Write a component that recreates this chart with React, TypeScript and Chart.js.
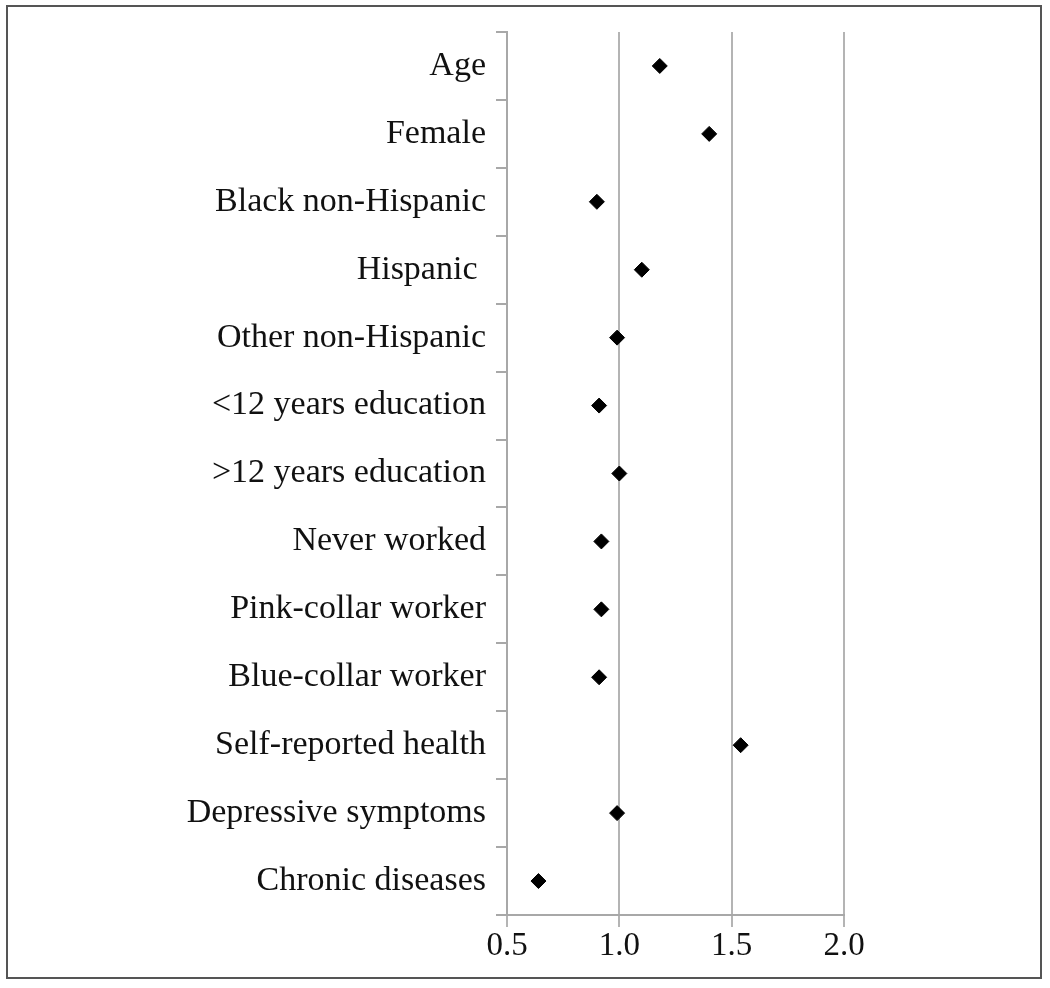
import React, { useEffect, useRef } from "react";
import { Chart, registerables } from "chart.js";

Chart.register(...registerables);

const categories = [
  "Age",
  "Female",
  "Black non-Hispanic",
  "Hispanic ",
  "Other non-Hispanic",
  "<12 years education",
  ">12 years education",
  "Never worked",
  "Pink-collar worker",
  "Blue-collar worker",
  "Self-reported health",
  "Depressive symptoms",
  "Chronic diseases",
];

const oddsRatios = [1.18, 1.4, 0.9, 1.1, 0.99, 0.91, 1.0, 0.92, 0.92, 0.91, 1.54, 0.99, 0.64];

const xTicks = [0.5, 1.0, 1.5, 2.0];

const FONT = "'Liberation Serif', 'Times New Roman', serif";

export default function App() {
  const ref = useRef<HTMLCanvasElement | null>(null);

  useEffect(() => {
    document.body.style.margin = "0";
    const canvas = ref.current;
    if (!canvas) return;
    const data = categories.map((c, i) => ({ x: oddsRatios[i], y: c }));
    const chart = new Chart(canvas, {
      type: "scatter",
      data: {
        datasets: [
          {
            data: data as any,
            pointStyle: "rectRot",
            pointRadius: 7.5,
            pointBorderWidth: 1,
            backgroundColor: "#000",
            borderColor: "#000",
          },
        ],
      },
      options: {
        animation: false,
        responsive: false,
        maintainAspectRatio: false,
        layout: { padding: { left: 0, top: 32, right: 206, bottom: 0 } },
        plugins: { legend: { display: false }, tooltip: { enabled: false } },
        scales: {
          x: {
            type: "linear",
            min: 0.5,
            max: 2.0,
            afterBuildTicks: (axis: any) => {
              axis.ticks = xTicks.map((v) => ({ value: v }));
            },
            afterFit: (axis: any) => {
              axis.height = 73;
            },
            grid: {
              color: "#b4b4b4",
              lineWidth: 2,
              tickLength: 12,
              drawTicks: true,
            },
            border: { display: true, color: "#a8a8a8", width: 2 },
            ticks: {
              color: "#111",
              font: { family: FONT, size: 33 },
              padding: 0,
              callback: (v: any) => Number(v).toFixed(1),
            },
          },
          y: {
            type: "category",
            labels: categories,
            offset: true,
            afterFit: (axis: any) => {
              axis.width = 507;
            },
            grid: {
              offset: true,
              drawOnChartArea: false,
              drawTicks: true,
              tickLength: 11,
              color: "#a8a8a8",
              lineWidth: 2,
            },
            border: { display: true, color: "#a8a8a8", width: 2 },
            ticks: {
              color: "#111",
              font: { family: FONT, size: 34 },
              padding: 10,
              autoSkip: false,
            },
          },
        },
      },
    });
    return () => chart.destroy();
  }, []);

  return (
    <div style={{ position: "relative", width: 1050, height: 988, background: "#fff" }}>
      <canvas
        ref={ref}
        width={1050}
        height={988}
        style={{ position: "absolute", left: 0, top: 0, width: 1050, height: 988 }}
      />
      <div
        style={{
          position: "absolute",
          left: 6,
          top: 5,
          width: 1032,
          height: 970,
          border: "2px solid #555",
          pointerEvents: "none",
        }}
      />
    </div>
  );
}
